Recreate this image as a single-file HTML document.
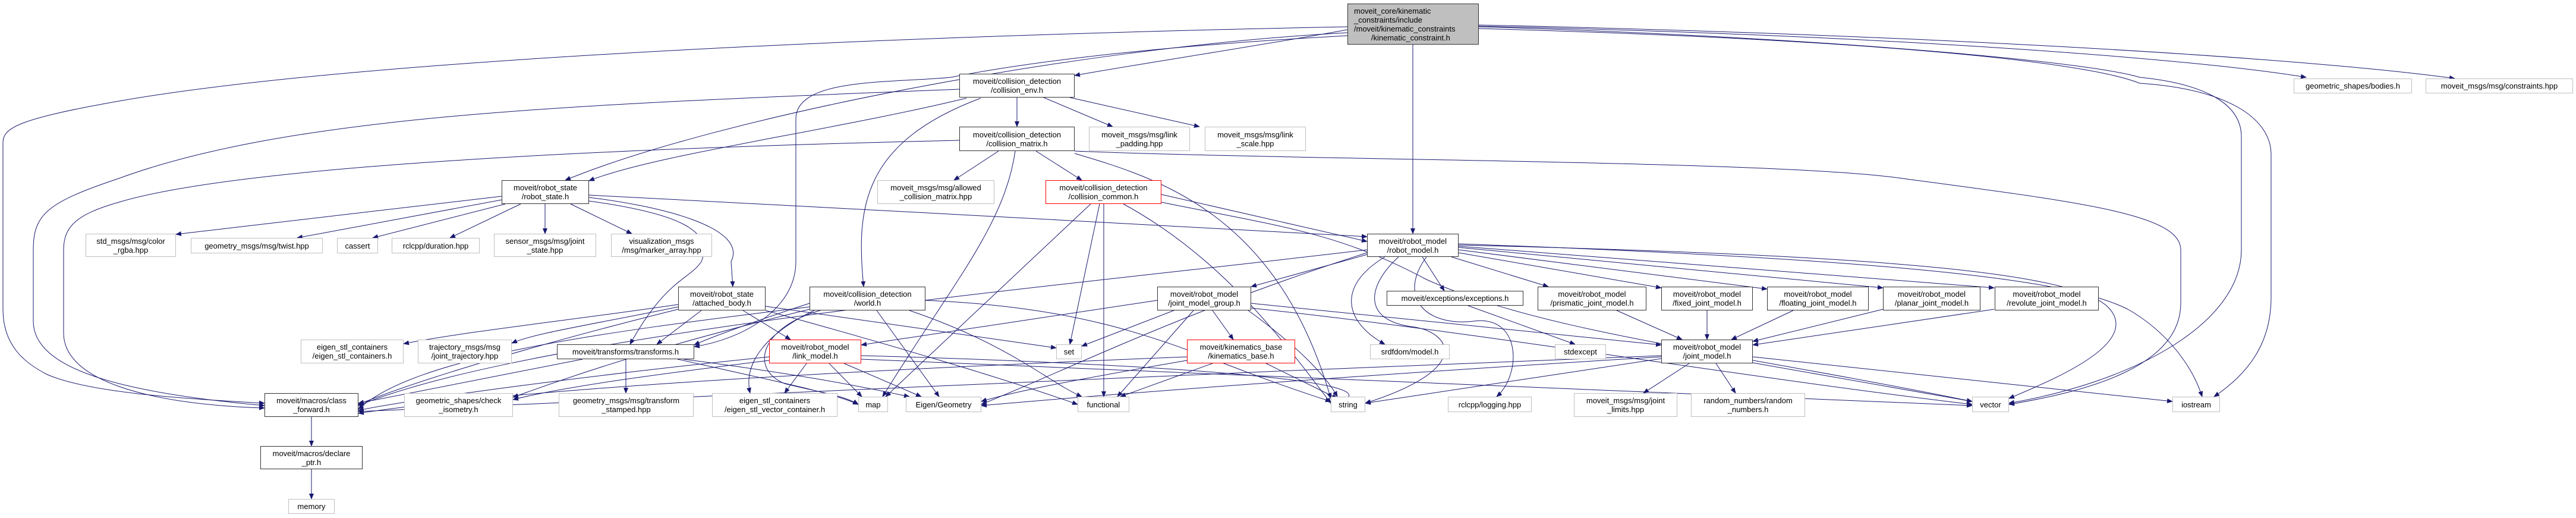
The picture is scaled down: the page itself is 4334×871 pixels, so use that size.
<!DOCTYPE html>
<html><head><meta charset="utf-8"><style>
html,body{margin:0;padding:0;background:#fff;}
#c{position:relative;width:4334px;height:871px;overflow:hidden;font-family:"Liberation Sans",sans-serif;}
svg{position:absolute;left:0;top:0;}
.n{position:absolute;box-sizing:border-box;background:#fff;border:1px solid #bfbfbf;display:flex;align-items:center;justify-content:center;text-align:center;font-size:13px;line-height:15px;color:#000;white-space:nowrap;}
.b{border:1.5px solid #333;}
.r{border:1.5px solid #ff0000;}
.g{background:#bfbfbf;border:1.5px solid #333;}
</style></head><body><div id="c">
<svg width="4334" height="871" viewBox="0 0 4334 871">
<defs><marker id="a" markerWidth="10" markerHeight="8" refX="9" refY="4" orient="auto" markerUnits="userSpaceOnUse"><path d="M0,0 L10,4 L0,8 z" fill="#191970"/></marker></defs>
<g fill="none" stroke="#191970" stroke-width="1" marker-end="url(#a)">
<!-- top node -->
<path d="M2267,45 C1500,60 600,100 200,170 C30,200 5,215 5,240 L5,520 C5,580 40,610 80,630 C150,660 300,670 445,678"/>
<path d="M2267,55 C1800,80 1200,200 951,303"/>
<path d="M2267,50 C2100,80 1900,110 1808,127"/>
<path d="M2377,75 L2377,393"/>
<path d="M2267,60 C1900,80 1700,110 1600,130 C1500,140 1339,130 1339,200 L1339,440 C1339,520 1250,570 1168,583"/>
<path d="M2488,45 C3000,60 3500,100 3600,130 C3700,140 3771,170 3771,230 L3771,420 C3771,540 3600,640 3380,678"/>
<path d="M2488,48 C3100,65 3500,100 3600,140 C3750,150 3821,200 3821,260 L3821,500 C3821,580 3780,630 3725,667"/>
<path d="M2488,44 C3200,60 3700,100 3880,130"/>
<path d="M2488,42 C3300,60 3900,100 4130,132"/>
<!-- robot_state -->
<path d="M844,330 L296,394"/>
<path d="M844,336 L500,400"/>
<path d="M850,343 L627,400"/>
<path d="M876,343 L757,400"/>
<path d="M917,343 L917,393"/>
<path d="M960,343 L1063,393"/>
<path d="M991,328 C1400,350 2000,380 2300,398"/>
<path d="M991,332 C1100,345 1260,380 1230,440 L1233,482"/>
<path d="M991,338 C1150,360 1200,390 1180,440 C1160,470 1120,470 1060,579"/>
<!-- collision_env -->
<path d="M1711,164 L1711,213"/>
<path d="M1756,164 L1872,213"/>
<path d="M1800,164 L2018,213"/>
<path d="M1626,165 C1400,220 1100,260 991,304"/>
<path d="M1650,165 C1450,240 1440,350 1453,482"/>
<path d="M1614,150 C1000,175 500,190 200,300 C80,340 56,360 56,420 L56,540 C56,620 200,660 445,682"/>
<!-- collision_matrix -->
<path d="M1680,254 L1605,303"/>
<path d="M1743,254 L1820,303"/>
<path d="M1708,254 C1690,380 1600,480 1485,667"/>
<path d="M1614,236 C1000,250 400,280 200,340 C130,360 107,380 107,420 L107,560 C107,640 250,680 445,686"/>
<path d="M1808,254 C2200,270 3000,270 3200,300 C3500,340 3669,360 3669,420 L3669,510 C3669,620 3500,660 3380,680"/>
<path d="M1808,258 C1950,300 2150,360 2239,670"/>
<!-- collision_common -->
<path d="M1850,343 L1800,579"/>
<path d="M1857,343 L1857,667"/>
<path d="M1835,343 L1490,667"/>
<path d="M1954,327 L2300,406"/>
<path d="M1954,340 C2150,380 2250,390 2400,470 C2600,560 2900,590 3318,675"/>
<path d="M1890,343 C2050,430 2150,560 2239,678"/>
<!-- attached_body -->
<path d="M1250,522 L1330,571"/>
<path d="M1180,522 L1105,579"/>
<path d="M1288,515 L1777,585"/>
<path d="M1141,520 C900,580 700,640 603,680"/>
<path d="M1141,512 C950,540 800,555 679,578"/>
<path d="M1141,516 C1000,545 900,560 861,577"/>
<path d="M1288,522 C1500,580 1700,640 1813,680"/>
<!-- world -->
<path d="M1362,510 C1300,530 1200,565 1168,580"/>
<path d="M1475,522 L1580,667"/>
<path d="M1380,522 C1280,550 1260,620 1320,645 C1380,660 1420,665 1444,680"/>
<path d="M1370,522 C1290,560 1250,610 1262,661"/>
<path d="M1557,505 C1900,520 2000,600 2239,675"/>
<path d="M1530,522 C1700,580 1760,640 1820,667"/>
<path d="M1362,516 C1000,560 700,600 603,688"/>
<path d="M1362,520 C1200,560 1050,600 863,668"/>
<!-- joint_model_group -->
<path d="M1947,505 L1449,580"/>
<path d="M1975,522 L1820,582"/>
<path d="M2040,522 L2075,571"/>
<path d="M2008,522 L1880,667"/>
<path d="M2105,510 L2795,580"/>
<path d="M2100,522 C2180,580 2230,630 2250,667"/>
<path d="M2105,518 C2500,560 2900,630 3318,680"/>
<!-- link_model -->
<path d="M1395,611 L1450,667"/>
<path d="M1420,611 L1550,667"/>
<path d="M1357,611 L1320,661"/>
<path d="M1294,600 C1000,630 700,670 603,690"/>
<path d="M1449,598 C1900,610 2400,640 2239,680"/>
<path d="M1449,604 C2200,640 2900,660 3318,682"/>
<path d="M1294,606 C1100,630 950,650 863,672"/>
<!-- kinematics_base -->
<path d="M2040,611 L1885,667"/>
<path d="M2130,611 L2250,670"/>
<path d="M1997,600 C1500,620 900,650 603,695"/>
<path d="M1997,606 C1800,640 1700,660 1651,675"/>
<!-- transforms -->
<path d="M1053,604 L1053,661"/>
<path d="M980,604 L603,678"/>
<path d="M1140,604 C1300,640 1400,660 1444,680"/>
<path d="M1150,604 C1350,630 1450,650 1530,667"/>
<!-- robot_model -->
<path d="M2393,432 L2430,489"/>
<path d="M2442,432 L2605,482"/>
<path d="M2454,425 L2795,484"/>
<path d="M2454,420 L2973,486"/>
<path d="M2454,416 L3168,484"/>
<path d="M2454,414 L3355,484"/>
<path d="M2300,428 L2105,482"/>
<path d="M2330,432 C2250,480 2260,540 2330,579"/>
<path d="M2353,432 C2300,480 2290,540 2380,550 C2440,560 2480,620 2297,678"/>
<path d="M2400,432 C2350,500 2400,550 2480,540 C2560,530 2560,630 2518,667"/>
<path d="M2300,420 C1800,480 900,560 603,682"/>
<path d="M2300,425 C2000,520 1800,620 1651,680"/>
<path d="M2454,412 C3200,430 3500,460 3550,520 C3600,580 3450,640 3380,670"/>
<path d="M2454,410 C3300,440 3500,480 3580,520 C3650,560 3690,620 3705,667"/>
<!-- misc -->
<path d="M2470,514 L2650,579"/>
<path d="M2720,522 L2830,571"/>
<path d="M2872,522 L2872,571"/>
<path d="M3017,522 L2913,571"/>
<path d="M3168,520 L2949,574"/>
<path d="M3355,520 L2949,580"/>
<path d="M2842,611 L2765,661"/>
<path d="M2887,611 L2920,661"/>
<path d="M2949,610 L3318,675"/>
<path d="M2949,600 L3655,675"/>
<path d="M2795,603 L2297,678"/>
<path d="M2795,600 C2300,630 1900,660 1651,682"/>
<path d="M2795,598 C2000,630 1000,670 603,692"/>
<path d="M524,701 L524,750"/>
<path d="M524,789 L524,839"/>
</g>
</svg>
<div class="n g" style="left:2267px;top:6px;width:221px;height:69px;justify-content:flex-start;text-align:left;padding-left:10px;">moveit_core/kinematic<br>_constraints/include<br>/moveit/kinematic_constraints<br>&nbsp;&nbsp;&nbsp;&nbsp;&nbsp;&nbsp;&nbsp;&nbsp;/kinematic_constraint.h</div>
<div class="n b" style="left:1614px;top:124px;width:194px;height:40px;">moveit/collision_detection<br>/collision_env.h</div>
<div class="n b" style="left:1614px;top:213px;width:194px;height:41px;">moveit/collision_detection<br>/collision_matrix.h</div>
<div class="n" style="left:1832px;top:213px;width:170px;height:41px;">moveit_msgs/msg/link<br>_padding.hpp</div>
<div class="n" style="left:2027px;top:213px;width:170px;height:41px;">moveit_msgs/msg/link<br>_scale.hpp</div>
<div class="n" style="left:3859px;top:132px;width:199px;height:25px;">geometric_shapes/bodies.h</div>
<div class="n" style="left:4081px;top:132px;width:248px;height:25px;">moveit_msgs/msg/constraints.hpp</div>
<div class="n b" style="left:844px;top:303px;width:147px;height:40px;">moveit/robot_state<br>/robot_state.h</div>
<div class="n" style="left:1476px;top:303px;width:197px;height:40px;">moveit_msgs/msg/allowed<br>_collision_matrix.hpp</div>
<div class="n r" style="left:1759px;top:303px;width:195px;height:40px;">moveit/collision_detection<br>/collision_common.h</div>
<div class="n" style="left:144px;top:393px;width:152px;height:39px;">std_msgs/msg/color<br>_rgba.hpp</div>
<div class="n" style="left:321px;top:400px;width:222px;height:26px;">geometry_msgs/msg/twist.hpp</div>
<div class="n" style="left:567px;top:400px;width:69px;height:26px;">cassert</div>
<div class="n" style="left:659px;top:400px;width:148px;height:26px;">rclcpp/duration.hpp</div>
<div class="n" style="left:831px;top:393px;width:172px;height:39px;">sensor_msgs/msg/joint<br>_state.hpp</div>
<div class="n" style="left:1028px;top:393px;width:170px;height:39px;">visualization_msgs<br>/msg/marker_array.hpp</div>
<div class="n b" style="left:2300px;top:393px;width:154px;height:39px;">moveit/robot_model<br>/robot_model.h</div>
<div class="n b" style="left:1141px;top:482px;width:147px;height:40px;">moveit/robot_state<br>/attached_body.h</div>
<div class="n b" style="left:1362px;top:482px;width:195px;height:40px;">moveit/collision_detection<br>/world.h</div>
<div class="n b" style="left:1947px;top:482px;width:158px;height:40px;">moveit/robot_model<br>/joint_model_group.h</div>
<div class="n b" style="left:2333px;top:489px;width:230px;height:25px;">moveit/exceptions/exceptions.h</div>
<div class="n b" style="left:2587px;top:482px;width:183px;height:40px;">moveit/robot_model<br>/prismatic_joint_model.h</div>
<div class="n b" style="left:2795px;top:482px;width:154px;height:40px;">moveit/robot_model<br>/fixed_joint_model.h</div>
<div class="n b" style="left:2973px;top:482px;width:171px;height:40px;">moveit/robot_model<br>/floating_joint_model.h</div>
<div class="n b" style="left:3168px;top:482px;width:164px;height:40px;">moveit/robot_model<br>/planar_joint_model.h</div>
<div class="n b" style="left:3356px;top:482px;width:175px;height:40px;">moveit/robot_model<br>/revolute_joint_model.h</div>
<div class="n" style="left:506px;top:571px;width:173px;height:40px;">eigen_stl_containers<br>/eigen_stl_containers.h</div>
<div class="n" style="left:703px;top:571px;width:158px;height:40px;">trajectory_msgs/msg<br>/joint_trajectory.hpp</div>
<div class="n b" style="left:937px;top:579px;width:231px;height:25px;">moveit/transforms/transforms.h</div>
<div class="n r" style="left:1294px;top:571px;width:155px;height:40px;">moveit/robot_model<br>/link_model.h</div>
<div class="n" style="left:1777px;top:579px;width:43px;height:25px;">set</div>
<div class="n r" style="left:1997px;top:571px;width:182px;height:40px;">moveit/kinematics_base<br>/kinematics_base.h</div>
<div class="n" style="left:2305px;top:579px;width:134px;height:25px;">srdfdom/model.h</div>
<div class="n" style="left:2616px;top:579px;width:86px;height:25px;">stdexcept</div>
<div class="n b" style="left:2795px;top:571px;width:154px;height:40px;">moveit/robot_model<br>/joint_model.h</div>
<div class="n b" style="left:445px;top:661px;width:158px;height:40px;">moveit/macros/class<br>_forward.h</div>
<div class="n" style="left:680px;top:661px;width:183px;height:40px;">geometric_shapes/check<br>_isometry.h</div>
<div class="n" style="left:940px;top:661px;width:227px;height:40px;">geometry_msgs/msg/transform<br>_stamped.hpp</div>
<div class="n" style="left:1198px;top:661px;width:211px;height:40px;">eigen_stl_containers<br>/eigen_stl_vector_container.h</div>
<div class="n" style="left:1444px;top:667px;width:50px;height:26px;">map</div>
<div class="n" style="left:1524px;top:667px;width:127px;height:26px;">Eigen/Geometry</div>
<div class="n" style="left:1813px;top:667px;width:87px;height:26px;">functional</div>
<div class="n" style="left:2239px;top:667px;width:58px;height:26px;">string</div>
<div class="n" style="left:2436px;top:667px;width:141px;height:26px;">rclcpp/logging.hpp</div>
<div class="n" style="left:2648px;top:661px;width:174px;height:40px;">moveit_msgs/msg/joint<br>_limits.hpp</div>
<div class="n" style="left:2845px;top:661px;width:192px;height:40px;">random_numbers/random<br>_numbers.h</div>
<div class="n" style="left:3318px;top:667px;width:62px;height:26px;">vector</div>
<div class="n" style="left:3655px;top:667px;width:80px;height:26px;">iostream</div>
<div class="n b" style="left:438px;top:750px;width:172px;height:39px;">moveit/macros/declare<br>_ptr.h</div>
<div class="n" style="left:485px;top:839px;width:78px;height:25px;">memory</div>
</div></body></html>
